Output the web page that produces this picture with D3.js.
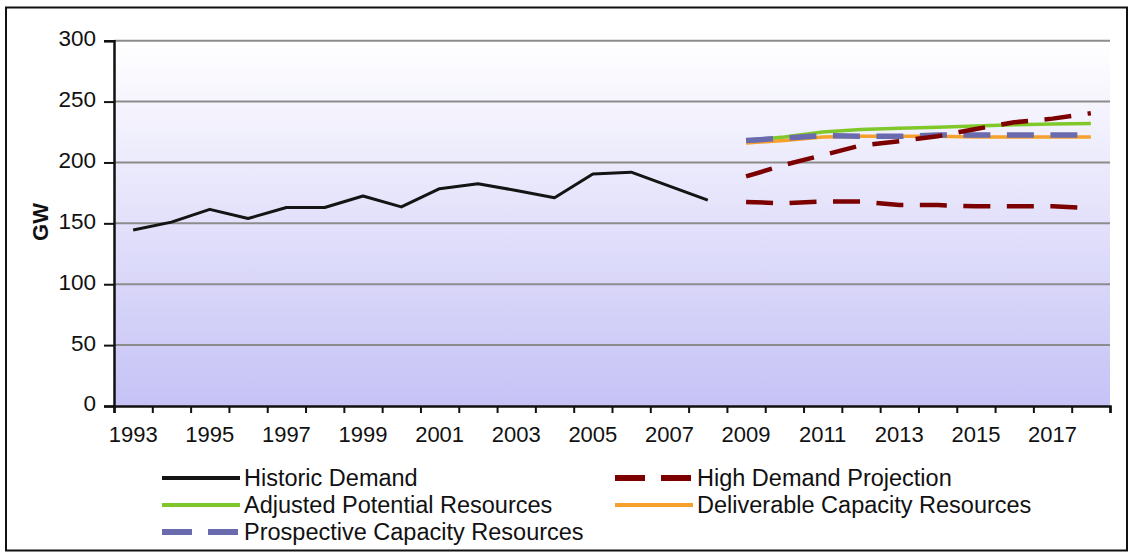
<!DOCTYPE html>
<html>
<head>
<meta charset="utf-8">
<script src="https://cdn.jsdelivr.net/npm/d3@7"></script>
<style>
  html, body { margin: 0; padding: 0; background: #fff; }
  svg { display: block; font-family: "Liberation Sans", Arial, sans-serif; }
</style>
</head>
<body>
<svg id="chart" width="1132" height="557"></svg>
<script>
// ---------- data ----------
const years = [1993, 1994, 1995, 1996, 1997, 1998, 1999, 2000, 2001, 2002, 2003, 2004, 2005,
               2006, 2007, 2008, 2009, 2010, 2011, 2012, 2013, 2014, 2015, 2016, 2017, 2018];
const xTickLabels = [1993, 1995, 1997, 1999, 2001, 2003, 2005, 2007, 2009, 2011, 2013, 2015, 2017];
const yTicks = [0, 50, 100, 150, 200, 250, 300];

const historicYears = [1993, 1994, 1995, 1996, 1997, 1998, 1999, 2000, 2001, 2002, 2003, 2004, 2005, 2006, 2007, 2008];
const historicDemand = [144.5, 151, 161.5, 154, 163, 163, 172.5, 163.5, 178.5, 182.5, 177, 171, 190.5, 192, 180.5, 169];

const projectionYears = [2009, 2010, 2011, 2012, 2013, 2014, 2015, 2016, 2017, 2018];
const highDemand = [188.5, 198, 206, 214, 217.5, 221.5, 227.5, 233, 236, 240.5];
const lowerDemand = [167.5, 166.5, 168, 168, 165, 165, 164, 164, 164, 162.5];
const adjustedPotential = [218, 221, 225, 227, 228, 229, 230, 231, 231.5, 232];
const deliverableCapacity = [216, 218, 221, 221.5, 221.5, 221.5, 221, 221, 221, 221];
const prospectiveCapacity = [218, 220, 222, 221.5, 221.5, 222.5, 222.5, 222.5, 222.5, 222.5];

// ---------- series styling (drawing order) ----------
const series = [
  { name: "Deliverable Capacity Resources", xs: projectionYears, ys: deliverableCapacity, color: "#f5a12c", width: 3.5, dash: null, legend: [1, 1] },
  { name: "Adjusted Potential Resources", xs: projectionYears, ys: adjustedPotential, color: "#80c829", width: 3.5, dash: null, legend: [0, 1] },
  { name: "Prospective Capacity Resources", xs: projectionYears, ys: prospectiveCapacity, color: "#6a6aae", width: 5.5, dash: "27,16.5", legend: [0, 2] },
  { name: "Lower Demand Projection", xs: projectionYears, ys: lowerDemand, color: "#7c0000", width: 4.5, dash: "27,16.5", legend: null },
  { name: "High Demand Projection", xs: projectionYears, ys: highDemand, color: "#7c0000", width: 4.5, dash: "27,16.5", legend: [1, 0] },
  { name: "Historic Demand", xs: historicYears, ys: historicDemand, color: "#141414", width: 3, dash: null, legend: [0, 0] }
];

// ---------- layout ----------
const svg = d3.select("#chart");
const plotLeft = 114, plotRight = 1110, plotTop = 40.7, plotBottom = 406;

const x = d3.scaleBand().domain(years).range([plotLeft, plotRight]).paddingInner(0).paddingOuter(0);
const xc = d => x(d) + x.bandwidth() / 2;
const y = d3.scaleLinear().domain([0, 300]).range([plotBottom, plotTop]);

// outer frame
svg.append("rect").attr("x", 6).attr("y", 7.5).attr("width", 1121).attr("height", 543)
  .attr("fill", "none").attr("stroke", "#111").attr("stroke-width", 2);

// background gradient
const defs = svg.append("defs");
const grad = defs.append("linearGradient").attr("id", "bg").attr("x1", 0).attr("y1", 0).attr("x2", 0).attr("y2", 1);
grad.append("stop").attr("offset", "0%").attr("stop-color", "#ffffff");
grad.append("stop").attr("offset", "100%").attr("stop-color", "#c6c2f6");
svg.append("rect").attr("x", plotLeft).attr("y", plotTop).attr("width", plotRight - plotLeft).attr("height", plotBottom - plotTop)
  .attr("fill", "url(#bg)");

// gridlines
svg.append("g").selectAll("line").data(yTicks.filter(d => d > 0)).join("line")
  .attr("x1", plotLeft).attr("x2", plotRight)
  .attr("y1", d => y(d)).attr("y2", d => y(d))
  .attr("stroke", "#8c8c8c").attr("stroke-width", 2);

// y axis
const yAxis = svg.append("g").attr("transform", `translate(${plotLeft},0)`)
  .call(d3.axisLeft(y).tickValues(yTicks).tickSize(10).tickPadding(8));
yAxis.select(".domain").attr("stroke", "#111").attr("stroke-width", 2.5);
yAxis.selectAll(".tick line").attr("stroke", "#111").attr("stroke-width", 2);
yAxis.selectAll(".tick text").attr("font-size", 22.5).attr("fill", "#111")
  .attr("font-family", "'Liberation Sans', Arial, sans-serif").attr("dy", "0.22em");

// x axis: tick marks at band boundaries
const xBound = d3.scaleLinear().domain([0, years.length]).range([plotLeft, plotRight]);
const xTickGroup = svg.append("g").attr("transform", `translate(0,${plotBottom})`)
  .call(d3.axisBottom(xBound).tickValues(d3.range(0, years.length + 1)).tickSize(7).tickFormat(""));
xTickGroup.select(".domain").attr("stroke", "#111").attr("stroke-width", 2.5);
xTickGroup.selectAll(".tick line").attr("stroke", "#111").attr("stroke-width", 2);

// x labels via band scale
const xAxis = svg.append("g").attr("transform", `translate(0,${plotBottom})`)
  .call(d3.axisBottom(x).tickValues(xTickLabels).tickSize(0).tickPadding(20));
xAxis.select(".domain").remove();
xAxis.selectAll(".tick text").attr("font-size", 22).attr("fill", "#111")
  .attr("font-family", "'Liberation Sans', Arial, sans-serif");

// y title
svg.append("text").attr("transform", "translate(48,222) rotate(-90)")
  .attr("text-anchor", "middle").attr("font-size", 22).attr("font-weight", "bold")
  .attr("fill", "#111").text("GW");

// lines
const line = d3.line().x(d => xc(d[0])).y(d => y(d[1]));
svg.append("g").selectAll("path").data(series).join("path")
  .attr("d", s => line(s.xs.map((v, i) => [v, s.ys[i]])))
  .attr("fill", "none")
  .attr("stroke", s => s.color)
  .attr("stroke-width", s => s.width)
  .attr("stroke-dasharray", s => s.dash)
  .attr("stroke-linejoin", "round");

// legend
const legendCols = [162, 615];
const legendRows = [478, 505, 532];
const legendItems = series.filter(s => s.legend);
const lg = svg.append("g").selectAll("g").data(legendItems).join("g")
  .attr("transform", s => `translate(${legendCols[s.legend[0]]},${legendRows[s.legend[1]]})`);
lg.append("line").attr("x1", 0).attr("x2", 78).attr("y1", 0).attr("y2", 0)
  .attr("stroke", s => s.color)
  .attr("stroke-width", s => s.dash ? 6 : 4)
  .attr("stroke-dasharray", s => s.dash ? "30,16" : null);
lg.append("text").attr("x", 82).attr("y", 0).attr("dy", "0.36em")
  .attr("font-size", 23.5).attr("fill", "#111").text(s => s.name);
</script>
</body>
</html>
